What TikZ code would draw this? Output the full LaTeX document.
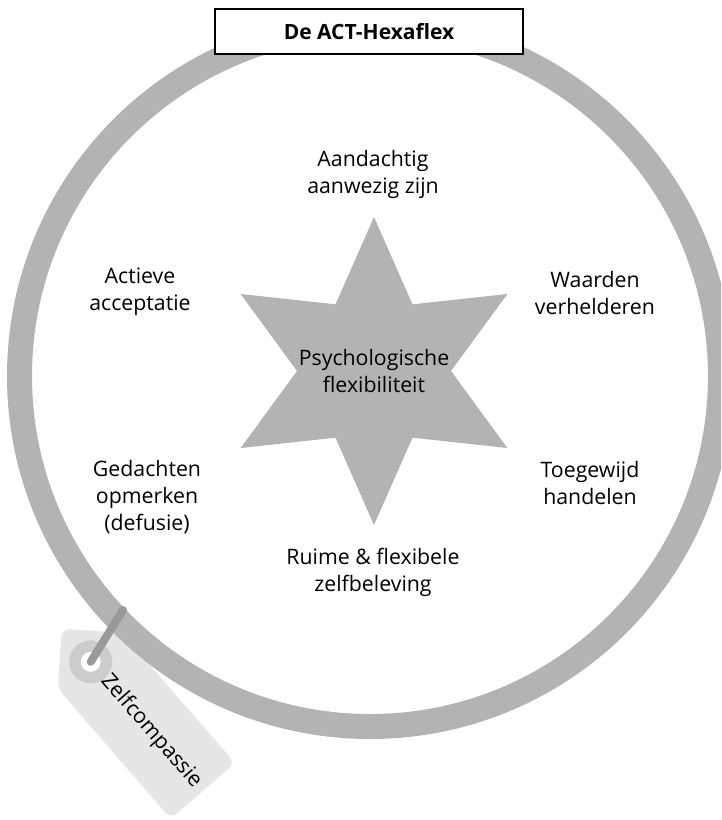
\documentclass[tikz,border=0pt]{standalone}
\usepackage{fontspec}
\setmainfont{Open Sans}
\usetikzlibrary{shapes.geometric, positioning}

\definecolor{ringgray}{HTML}{B3B3B3}
\definecolor{taggray}{HTML}{E6E6E6}
\definecolor{eyegray}{HTML}{CCCCCC}
\definecolor{stringgray}{HTML}{999999}

\begin{document}
\begin{tikzpicture}[x=1pt, y=-1pt,
            txt/.style={align=center, inner sep=0pt, font=\fontsize{21.3}{27}\selectfont},
            titlebox/.style={draw, line width=1.5pt, fill=white, minimum width=308pt,
              minimum height=45pt, font=\bfseries\fontsize{21}{26}\selectfont}]
            \useasboundingbox (0,0) rectangle (721,820);
            \clip (0,0) rectangle (721,820);

            % label on the ring
            \begin{scope}[shift={(235,763)}, rotate=-49]
              \fill[taggray, rounded corners=8pt] (0,0) -- (0,85) -- (-172.5,85) -- (-215,42.5) -- (-172.5,0) -- cycle;
              \coordinate (eye) at (-171,42.5);
              \node[txt, rotate=-49] (tag) at (-79,42.5) {Zelfcompassie};
            \end{scope}

            \draw[ringgray, line width=25pt] (370,376) circle (350.5pt);

            \fill[eyegray] (eye) circle (21.5pt);
            \fill[white] (eye) circle (10pt);
            \coordinate (knot) at (123,610);
            \draw[stringgray, line width=8pt, line cap=round] (eye) -- (knot);

            \node[star, star points=6, star point ratio=2, minimum size=308pt, inner sep=0pt,
              fill=ringgray] (star) at (374,371) {};
            \node[txt] (core) at (star) {Psychologische\\flexibiliteit};

            \node[txt] (aandacht)   at (373,174) {Aandachtig\\aanwezig zijn};
            \node[txt] (waarden)    at (595,293) {Waarden\\verhelderen};
            \node[txt] (handelen)   at (590,483) {Toegewijd\\handelen};
            \node[txt] (zelf)       at (373,572) {Ruime \& flexibele\\zelfbeleving};
            \node[txt] (defusie)    at (147,497) {Gedachten\\opmerken\\(defusie)};
            \node[txt] (acceptatie) at (140,292) {Actieve\\acceptatie};

            \node[titlebox] (title) at (369,31.5) {De ACT-Hexaflex};
            \end{tikzpicture}
\end{document}
